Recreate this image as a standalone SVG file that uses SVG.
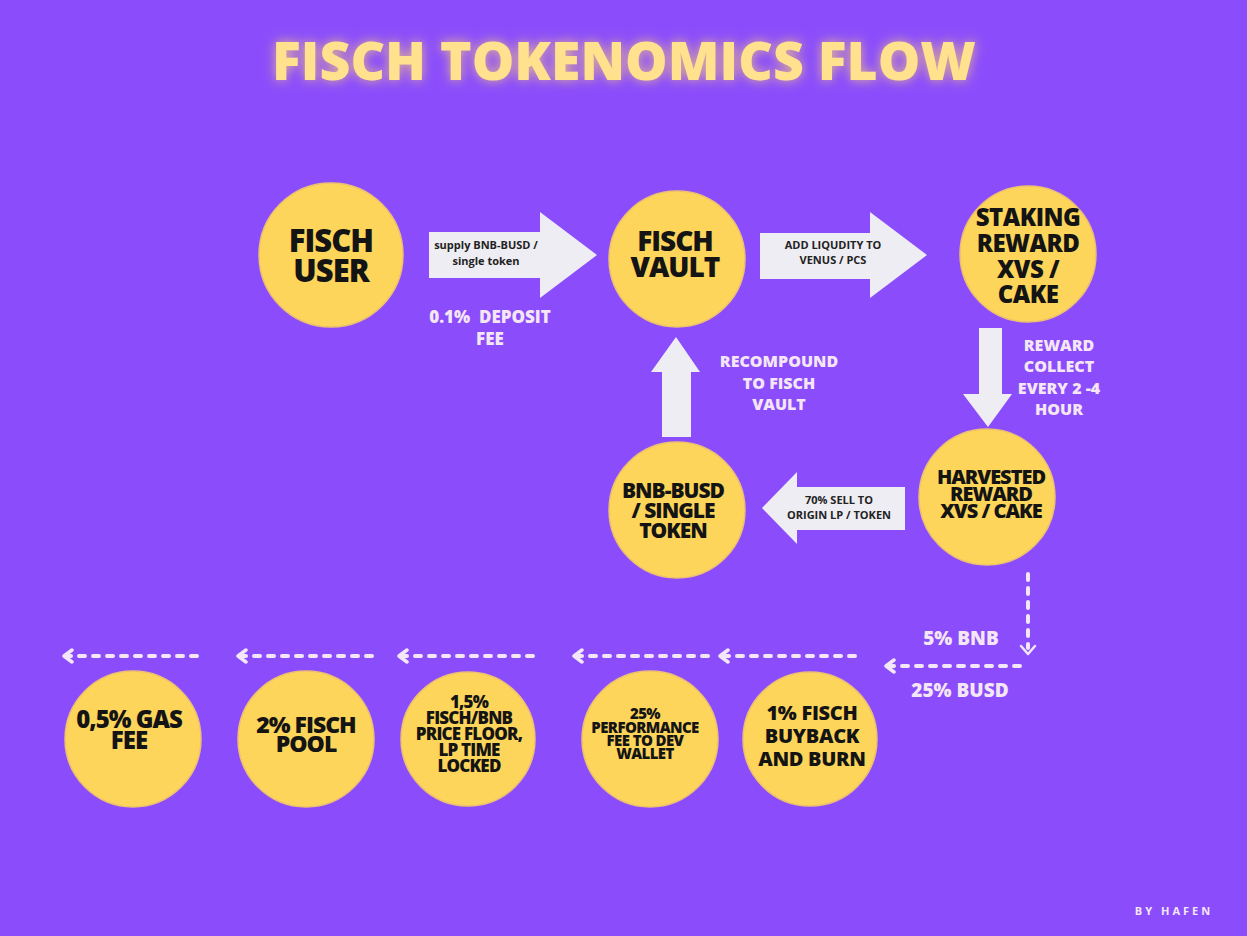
<svg xmlns="http://www.w3.org/2000/svg" width="1247" height="936" viewBox="0 0 1247 936">
<defs>
<filter id="glow" x="-10%" y="-50%" width="120%" height="200%">
<feGaussianBlur in="SourceAlpha" stdDeviation="6" result="b"/>
<feFlood flood-color="#FFD86A" flood-opacity="0.75"/>
<feComposite in2="b" operator="in" result="g"/>
<feMerge><feMergeNode in="g"/><feMergeNode in="SourceGraphic"/></feMerge>
</filter>
<marker id="chev" viewBox="0 0 12 16" refX="10" refY="8" markerWidth="12" markerHeight="16" markerUnits="userSpaceOnUse" orient="auto">
<path d="M2 2 L10 8 L2 14" fill="none" stroke="#F3E6F7" stroke-width="3.5" stroke-linecap="round" stroke-linejoin="round"/>
</marker>
</defs>
<style>
.node{fill:#FDD55B;stroke:#EDC070;stroke-width:1.5}
.nt{font-family:"Open Sans","Liberation Sans",sans-serif;font-weight:800;fill:#141414;text-anchor:middle}
.arr{fill:#EEEDF3}
.al{font-family:"Open Sans","Liberation Sans",sans-serif;font-weight:700;fill:#222;text-anchor:middle;font-size:11px}
.wl{font-family:"Open Sans","Liberation Sans",sans-serif;font-weight:800;fill:#F5E6F5;text-anchor:middle}
.dash{fill:none;stroke:#F3E6F7;stroke-width:4;stroke-linecap:round;stroke-dasharray:6 8}
</style>
<rect width="1247" height="936" fill="#8B4DFB"/>
<text x="624" y="80" font-family="Open Sans, Liberation Sans, sans-serif" font-weight="800" font-size="53" fill="#FFE18E" text-anchor="middle" textLength="704" lengthAdjust="spacingAndGlyphs" filter="url(#glow)">FISCH TOKENOMICS FLOW</text>

<g id="connectors">
<path class="arr" d="M429 232 H540 V212 L597 255 L540 298 V278 H429 Z"/>
<path class="arr" d="M760 233 H870 V212 L927 255 L870 298 V279 H760 Z"/>
<path class="arr" d="M979 328 H1002 V394 H1012 L988 427 L963 394 H979 Z"/>
<path class="arr" d="M662 437 V372 H651 L676 337 L700 372 H691 V437 Z"/>
<path class="arr" d="M905 487 H797 V472 L762 508 L797 544 V530 H905 Z"/>
<text class="al" x="486" y="249">supply BNB-BUSD /</text>
<text class="al" x="486" y="265">single token</text>
<text class="al" x="833" y="249">ADD LIQUDITY TO</text>
<text class="al" x="833" y="264">VENUS / PCS</text>
<text class="al" x="839" y="504">70% SELL TO</text>
<text class="al" x="839" y="519">ORIGIN LP / TOKEN</text>
<path class="dash" d="M1028 574 V648" stroke-dasharray="4 6"/>
<path d="M1021 646 L1028 654 L1035 646" fill="none" stroke="#F3E6F7" stroke-width="2.5" stroke-linecap="round" stroke-linejoin="round"/>
<path class="dash" d="M1020 666 H886" marker-end="url(#chev)"/>
<path class="dash" d="M855 656 H720" marker-end="url(#chev)"/>
<path class="dash" d="M708 656 H574" marker-end="url(#chev)"/>
<path class="dash" d="M533 656 H399" marker-end="url(#chev)"/>
<path class="dash" d="M372 656 H238" marker-end="url(#chev)"/>
<path class="dash" d="M197 656 H64" marker-end="url(#chev)"/>
</g>

<g class="wl" font-size="16">
<text x="490" y="323" font-size="17" style="white-space:pre">0.1%  DEPOSIT</text>
<text x="490" y="345" font-size="17">FEE</text>
<text x="779" y="367">RECOMPOUND</text>
<text x="779" y="389">TO FISCH</text>
<text x="779" y="410">VAULT</text>
<text x="1059" y="351">REWARD</text>
<text x="1059" y="372">COLLECT</text>
<text x="1059" y="394">EVERY 2 -4</text>
<text x="1059" y="415">HOUR</text>
</g>
<text class="wl" x="961" y="645" font-size="19">5% BNB</text>
<text class="wl" x="960" y="697" font-size="19">25% BUSD</text>

<g id="fisch-user"><circle class="node" cx="331" cy="255" r="72"/>
<text class="nt" font-size="31" letter-spacing="-1"><tspan x="331" y="252">FISCH</tspan><tspan x="331" y="282">USER</tspan></text></g>
<g id="fisch-vault"><circle class="node" cx="677" cy="259" r="68"/>
<text class="nt" font-size="28" letter-spacing="-1"><tspan x="675" y="251">FISCH</tspan><tspan x="675" y="277">VAULT</tspan></text></g>
<g id="staking-reward"><circle class="node" cx="1028" cy="254" r="68"/>
<text class="nt" font-size="24" letter-spacing="-0.5"><tspan x="1028" y="226">STAKING</tspan><tspan x="1028" y="252">REWARD</tspan><tspan x="1028" y="278">XVS /</tspan><tspan x="1028" y="303">CAKE</tspan></text></g>
<g id="harvested-reward"><circle class="node" cx="987" cy="497" r="68"/>
<text class="nt" font-size="20" letter-spacing="-1"><tspan x="991" y="484">HARVESTED</tspan><tspan x="991" y="501">REWARD</tspan><tspan x="991" y="518">XVS / CAKE</tspan></text></g>
<g id="bnb-busd"><circle class="node" cx="677" cy="510" r="68"/>
<text class="nt" font-size="21" letter-spacing="-1"><tspan x="673" y="498">BNB-BUSD</tspan><tspan x="673" y="518">/ SINGLE</tspan><tspan x="673" y="538">TOKEN</tspan></text></g>
<g id="gas-fee"><circle class="node" cx="133" cy="739" r="68"/>
<text class="nt" font-size="24" letter-spacing="-1"><tspan x="129" y="728">0,5% GAS</tspan><tspan x="129" y="749">FEE</tspan></text></g>
<g id="fisch-pool"><circle class="node" cx="306" cy="739" r="68"/>
<text class="nt" font-size="23" letter-spacing="-1"><tspan x="306" y="733">2% FISCH</tspan><tspan x="306" y="752">POOL</tspan></text></g>
<g id="price-floor"><circle class="node" cx="468" cy="739" r="67"/>
<text class="nt" font-size="17" letter-spacing="-0.8"><tspan x="469" y="708">1,5%</tspan><tspan x="469" y="724">FISCH/BNB</tspan><tspan x="469" y="740">PRICE FLOOR,</tspan><tspan x="469" y="756">LP TIME</tspan><tspan x="469" y="772">LOCKED</tspan></text></g>
<g id="performance-fee"><circle class="node" cx="650" cy="739" r="68"/>
<text class="nt" font-size="15" letter-spacing="-0.6"><tspan x="645" y="719">25%</tspan><tspan x="645" y="733">PERFORMANCE</tspan><tspan x="645" y="746">FEE TO DEV</tspan><tspan x="645" y="759">WALLET</tspan></text></g>
<g id="buyback-burn"><circle class="node" cx="810" cy="739" r="67"/>
<text class="nt" font-size="20" letter-spacing="-0.3"><tspan x="812" y="720">1% FISCH</tspan><tspan x="812" y="743">BUYBACK</tspan><tspan x="812" y="766">AND BURN</tspan></text></g>

<text x="1174" y="915" font-family="Open Sans, Liberation Sans, sans-serif" font-weight="700" font-size="11" fill="#F3E6F7" text-anchor="middle" letter-spacing="3">BY HAFEN</text>
</svg>
